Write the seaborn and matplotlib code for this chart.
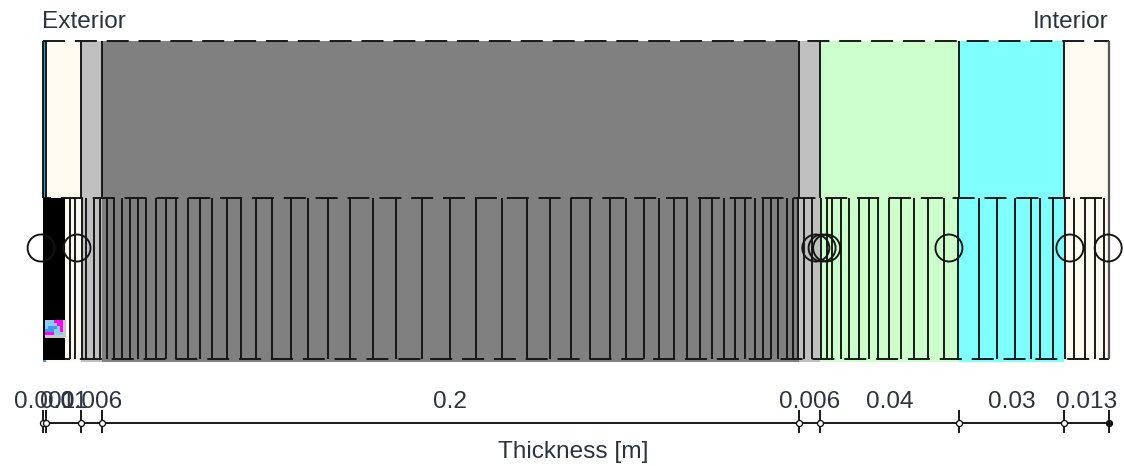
import numpy as np
import pandas as pd
import matplotlib.pyplot as plt
from matplotlib.colors import ListedColormap
import seaborn as sns

# layer thickness in metres, exterior to interior
thickness = [0.001, 0.01, 0.006, 0.2, 0.006, 0.04, 0.03, 0.013]
thickness_labels = ["0.001", "0.01", "0.006", "0.2", "0.006", "0.04", "0.03", "0.013"]
layer_colors = ["#2A9FD0", "#FFFAF0", "#C0C0C0", "#808080", "#C0C0C0", "#CCFFCC", "#80FFFF", "#FFFAF0"]

# mesh node positions, in mm
mesh_nodes = [7.89, 9.33, 11.33, 12.48, 14.78, 16.5, 18.51, 20.52, 22.81, 25.11, 27.4, 29.7,
              32.57, 35.44, 38.31, 41.75, 45.19, 48.64, 52.94, 56.96, 61.26, 65.85, 71.3,
              76.18, 81.92, 88.23, 94.83, 101.43, 108.89, 116.93, 124.39, 131.85, 139.03,
              145.62, 151.65, 157.1, 162.84, 167.43, 172.6, 176.9, 181.21, 184.94, 188.67,
              192.11, 195.55, 198.71, 201.58, 204.45, 206.74, 209.04, 211.05, 213.63,
              215.35, 216.79, 218.51, 220.8, 223.39, 225.11, 226.54, 229.12, 231.42,
              234.29, 237.16, 239.74, 242.9, 246.34, 250.07, 254.09, 258.68, 262.7,
              268.72, 273.89, 279.05, 283.64, 286.23, 289.96, 293.4, 295.98, 299.14,
              302.01, 304.59, 306.0]
dense_mesh_end = 6.5  # nodes too close to tell apart, they merge to solid black

# sensor circles in mm
sensors = [-0.4, 9.9, 221.9, 223.7, 225.0, 260.1, 294.8, 305.8]

# small legend icon inside the black block
icon_cells = [[0, 0, 0, 1, 1, 1, 3],
              [0, 0, 0, 0, 1, 1, 3],
              [0, 2, 2, 2, 0, 1, 3],
              [2, 2, 2, 0, 0, 1, 3],
              [1, 1, 1, 0, 0, 0, 3],
              [3, 3, 3, 3, 3, 3, 3]]
icon_colors = ["#8CCBF2", "#FF00FF", "#3C9BE8", "#C8C8C8"]

sns.set_theme(style="white")
plt.rcParams["font.family"] = ["Liberation Sans", "DejaVu Sans"]
plt.rcParams["lines.scale_dashes"] = False

PX = 72 / 100  # one pixel in points
INK = "#141414"
LW = 1.9 * PX

fig = plt.figure(figsize=(11.24, 4.66), dpi=100)
ax = fig.add_axes([0, 0, 1, 1])
ax.axis("off")

edges = np.concatenate([[0], np.cumsum(thickness)])
left, right = edges[:-1], edges[1:]
mid = (left + right) / 2

# layers
ax.bar(left, 321, width=thickness, bottom=41, align="edge", color=layer_colors, linewidth=0, zorder=1)
ax.vlines(edges, 41, 198, color=INK, lw=LW, zorder=2)

# dashed top of the wall and of the mesh
dash = (22 * PX, 9.85 * PX)
ax.plot([0, edges[-1]], [41, 41], color=INK, lw=LW, linestyle=(0, dash), dash_capstyle="butt", zorder=3)
ax.plot([0, edges[-1]], [198, 198], color=INK, lw=LW, linestyle=(14 * PX, dash), dash_capstyle="butt", zorder=3)
ax.plot([0.0015, edges[-1]], [359, 359], color=INK, lw=LW, linestyle=(0, dash), dash_capstyle="butt", zorder=3)

# mesh
nodes = np.array(mesh_nodes) / 1000
ax.vlines(nodes[:-1], 198, 359, color=INK, lw=LW, zorder=3)
ax.vlines(nodes[-1], 41, 359, color="#555555", lw=LW * 1.2, zorder=3)
ax.bar(0, 162, width=dense_mesh_end / 1000, bottom=198, align="edge", color="black", linewidth=0, zorder=3)

# icon
ax.imshow(icon_cells, cmap=ListedColormap(icon_colors), vmin=0, vmax=3, aspect="auto",
          extent=[0.00075, dense_mesh_end / 1000, 338, 320], interpolation="nearest", zorder=4)

# sensor circles
sensor_df = pd.DataFrame({"x": np.array(sensors) / 1000, "y": 248})
sns.scatterplot(data=sensor_df, x="x", y="y", ax=ax, s=(27 * PX) ** 2, facecolor="none",
                edgecolor=INK, linewidth=LW, zorder=5, legend=False)

# thickness axis
ax.plot([0, edges[-1]], [423, 423], color=INK, lw=LW, zorder=3)
ax.vlines(edges, 410, 433, color=INK, lw=LW, zorder=3)
tick_df = pd.DataFrame({"x": edges, "y": 423})
sns.scatterplot(data=tick_df.iloc[:-1], x="x", y="y", ax=ax, s=(6 * PX) ** 2, color="white",
                edgecolor=INK, linewidth=LW * 0.7, zorder=4, legend=False)
sns.scatterplot(data=tick_df.iloc[-1:], x="x", y="y", ax=ax, s=(6 * PX) ** 2, color=INK,
                edgecolor=INK, linewidth=LW * 0.7, zorder=4, legend=False)
ax.set_xlabel("")
ax.set_ylabel("")
ax.set_xlim(-42.5 / 3485, (1124 - 42.5) / 3485)
ax.set_ylim(466, 0)

FS = 17.6
TEXT = "#2A3440"
for x, label in zip(mid, thickness_labels):
    ax.text(x, 402, label, ha="center", va="center", fontsize=FS, color=TEXT, zorder=6)
ax.text(0, 22, "Exterior", ha="left", va="center", fontsize=FS, color=TEXT)
ax.text(edges[-1], 22, "Interior", ha="right", va="center", fontsize=FS, color=TEXT)
ax.text((573 - 42.5) / 3485, 452, "Thickness [m]", ha="center", va="center", fontsize=FS, color=TEXT)

fig.savefig("out.png", dpi=100)
